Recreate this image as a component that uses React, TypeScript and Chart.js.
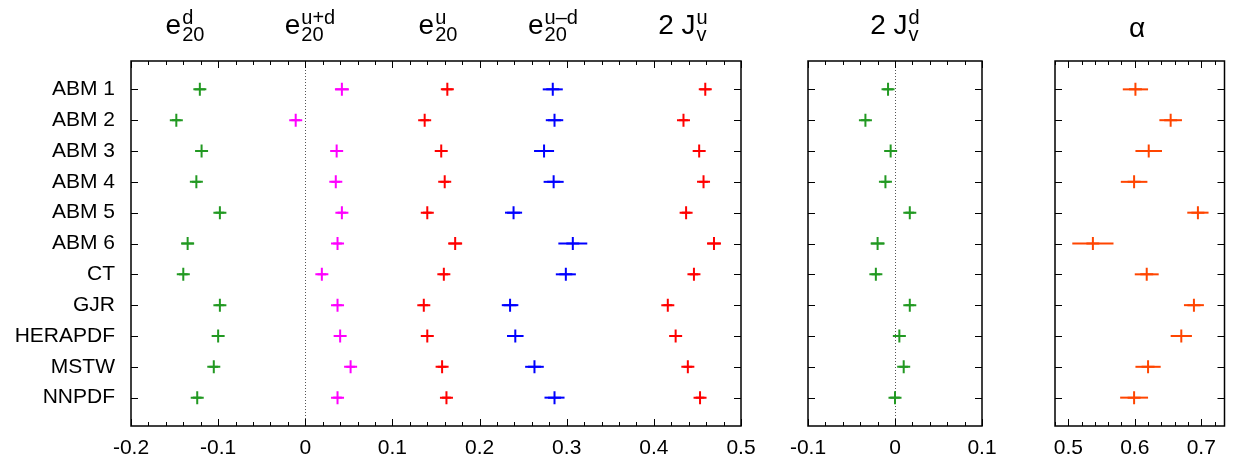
import React, { useEffect, useRef } from 'react';
import { Chart, registerables } from 'chart.js';

Chart.register(...registerables);

const groups = ['ABM 1', 'ABM 2', 'ABM 3', 'ABM 4', 'ABM 5', 'ABM 6', 'CT', 'GJR', 'HERAPDF', 'MSTW', 'NNPDF'];

const e20d = [-0.121, -0.148, -0.119, -0.125, -0.098, -0.135, -0.140, -0.098, -0.100, -0.105, -0.124];
const e20dErr = [0.006, 0.005, 0.005, 0.005, 0.005, 0.007, 0.005, 0.005, 0.005, 0.005, 0.005];
const e20ud = [0.042, -0.011, 0.036, 0.035, 0.042, 0.037, 0.019, 0.037, 0.040, 0.052, 0.037];
const e20udErr = [0.008, 0.005, 0.005, 0.005, 0.005, 0.005, 0.005, 0.005, 0.005, 0.005, 0.005];
const e20u = [0.163, 0.137, 0.156, 0.160, 0.140, 0.172, 0.159, 0.136, 0.140, 0.157, 0.162];
const e20uErr = [0.006, 0.005, 0.005, 0.005, 0.005, 0.008, 0.005, 0.005, 0.005, 0.005, 0.005];
const e20umd = [0.284, 0.286, 0.274, 0.285, 0.239, 0.307, 0.299, 0.235, 0.241, 0.263, 0.286];
const e20umdErr = [0.0115, 0.010, 0.0115, 0.0115, 0.0098, 0.0166, 0.0115, 0.0095, 0.0095, 0.0107, 0.0115];
const jvu = [0.459, 0.434, 0.452, 0.457, 0.437, 0.469, 0.446, 0.416, 0.425, 0.439, 0.453];
const jvuErr = [0.006, 0.005, 0.005, 0.005, 0.005, 0.008, 0.005, 0.005, 0.005, 0.005, 0.005];
const jvd = [-0.008, -0.034, -0.005, -0.011, 0.017, -0.020, -0.022, 0.017, 0.005, 0.010, 0.000];
const jvdErr = [0.0055, 0.005, 0.0055, 0.005, 0.005, 0.008, 0.005, 0.005, 0.005, 0.005, 0.0055];
const alpha = [0.601, 0.654, 0.621, 0.599, 0.695, 0.537, 0.618, 0.689, 0.670, 0.620, 0.599];
const alphaErr = [0.019, 0.017, 0.020, 0.020, 0.016, 0.031, 0.018, 0.015, 0.016, 0.019, 0.021];

const ticks1 = [-0.2, -0.1, 0, 0.1, 0.2, 0.3, 0.4, 0.5];
const ticks2 = [-0.1, 0, 0.1];
const ticks3 = [0.5, 0.6, 0.7];

const FONT = '"Liberation Sans", Arial, sans-serif';

type Series = { vals: number[]; errs: number[]; color: string };

const framePlugin = {
  id: 'frame',
  beforeDatasetsDraw(chart: any, _a: any, opts: any) {
    const { ctx, chartArea: a, scales } = chart;
    if (opts.zero) {
      const x = Math.round(scales.x.getPixelForValue(0)) + 0.5;
      ctx.save();
      ctx.strokeStyle = '#555';
      ctx.lineWidth = 1;
      ctx.setLineDash([1, 2]);
      ctx.beginPath();
      ctx.moveTo(x, a.top);
      ctx.lineTo(x, a.bottom);
      ctx.stroke();
      ctx.restore();
    }
  },
  afterDatasetsDraw(chart: any) {
    const { ctx, chartArea: a, scales } = chart;
    ctx.save();
    // horizontal error bars
    chart.data.datasets.forEach((ds: any) => {
      ctx.strokeStyle = ds.borderColor;
      ctx.lineWidth = 2;
      ds.data.forEach((p: any, i: number) => {
        const e = ds.errors[i];
        const y = scales.y.getPixelForValue(p.y);
        ctx.beginPath();
        ctx.moveTo(scales.x.getPixelForValue(p.x - e), y);
        ctx.lineTo(scales.x.getPixelForValue(p.x + e), y);
        ctx.stroke();
      });
    });
    // inward ticks on all four sides
    ctx.strokeStyle = '#000';
    ctx.lineWidth = 1;
    const { min, max } = scales.x;
    for (let v = Math.ceil(min / 0.02 - 1e-6) * 0.02; v <= max + 1e-9; v += 0.02) {
      const x = Math.round(scales.x.getPixelForValue(v)) + 0.5;
      const major = Math.abs(v * 10 - Math.round(v * 10)) < 1e-6;
      const len = major ? 7 : 4;
      ctx.beginPath();
      ctx.moveTo(x, a.bottom);
      ctx.lineTo(x, a.bottom - len);
      ctx.moveTo(x, a.top);
      ctx.lineTo(x, a.top + len);
      ctx.stroke();
    }
    groups.forEach((_g, i) => {
      const y = Math.round(scales.y.getPixelForValue(i)) + 0.5;
      ctx.beginPath();
      ctx.moveTo(a.left, y);
      ctx.lineTo(a.left + 7, y);
      ctx.moveTo(a.right, y);
      ctx.lineTo(a.right - 7, y);
      ctx.stroke();
    });
    ctx.lineWidth = 1.5;
    ctx.strokeRect(a.left, a.top, a.right - a.left, a.bottom - a.top);
    ctx.restore();
  },
};

const Panel: React.FC<{
  left: number; width: number; padL: number; padR: number;
  xmin: number; xmax: number; majors: number[]; series: Series[]; showY: boolean; zero: boolean;
}> = (p) => {
  const ref = useRef<HTMLCanvasElement>(null);
  useEffect(() => {
    const chart = new Chart(ref.current!, {
      type: 'scatter',
      data: {
        datasets: p.series.map((s) => ({
          data: s.vals.map((v, i) => ({ x: v, y: i })),
          errors: s.errs,
          borderColor: s.color,
          backgroundColor: s.color,
          pointStyle: 'cross',
          pointRadius: 6.5,
          borderWidth: 2,
        })) as any,
      },
      options: {
        animation: false,
        responsive: false,
        layout: { padding: { left: p.padL, right: p.padR, top: 61, bottom: 0 } },
        plugins: { legend: { display: false }, tooltip: { enabled: false }, frame: { zero: p.zero } } as any,
        scales: {
          x: {
            type: 'linear', min: p.xmin, max: p.xmax,
            grid: { display: false, drawTicks: false }, border: { display: false },
            afterBuildTicks: (s: any) => { s.ticks = p.majors.map((v) => ({ value: v })); },
            afterFit: (s: any) => { s.height = 37; s.paddingLeft = 0; s.paddingRight = 0; },
            ticks: { color: '#000', font: { family: FONT, size: 21 }, padding: 10, maxRotation: 0, callback: (v: any) => String(Math.round(v * 10) / 10) },
          },
          y: {
            type: 'linear', min: -0.92, max: 10.92, reverse: true, display: p.showY,
            grid: { display: false, drawTicks: false }, border: { display: false },
            afterBuildTicks: (s: any) => { s.ticks = groups.map((_g, i) => ({ value: i })); },
            afterFit: (s: any) => { s.width = p.showY ? 131 : 0; s.paddingTop = 0; s.paddingBottom = 0; },
            ticks: { color: '#000', font: { family: FONT, size: 21 }, padding: 16, callback: (v: any) => groups[v] },
          },
        },
      },
      plugins: [framePlugin],
    });
    return () => chart.destroy();
  }, []);
  return <canvas ref={ref} width={p.width} height={463} style={{ position: 'absolute', left: p.left, top: 0, width: p.width, height: 463 }} />;
};

const Title: React.FC<{ x: number; base: string; sup: string; sub: string }> = ({ x, base, sup, sub }) => (
  <div style={{ position: 'absolute', left: x, top: 0, transform: 'translateX(-50%)', display: 'flex', alignItems: 'flex-start', fontFamily: FONT, color: '#000', whiteSpace: 'nowrap' }}>
    <span style={{ fontSize: 28, lineHeight: '28px', marginTop: 11 }}>{base}</span>
    <span style={{ display: 'flex', flexDirection: 'column', fontSize: 20, lineHeight: '17px', marginTop: 9, marginLeft: 1 }}>
      <span>{sup}</span>
      <span>{sub}</span>
    </span>
  </div>
);

export default function App() {
  return (
    <div style={{ position: 'absolute', left: 0, top: 0, width: 1233, height: 463, background: '#fff' }}>
      <Panel left={0} width={760} padL={0} padR={19} xmin={-0.2} xmax={0.5} majors={ticks1} showY zero
        series={[
          { vals: e20d, errs: e20dErr, color: '#229922' },
          { vals: e20ud, errs: e20udErr, color: '#ff00ff' },
          { vals: e20u, errs: e20uErr, color: '#ff0000' },
          { vals: e20umd, errs: e20umdErr, color: '#0000ff' },
          { vals: jvu, errs: jvuErr, color: '#ff0000' },
        ]} />
      <Panel left={770} width={230} padL={38} padR={18} xmin={-0.1} xmax={0.1} majors={ticks2} showY={false} zero
        series={[{ vals: jvd, errs: jvdErr, color: '#229922' }]} />
      <Panel left={1000} width={233} padL={55} padR={7} xmin={0.48} xmax={0.735} majors={ticks3} showY={false} zero={false}
        series={[{ vals: alpha, errs: alphaErr, color: '#ff4500' }]} />
      <Title x={185} base="e" sup="d" sub="20" />
      <Title x={310} base="e" sup="u+d" sub="20" />
      <Title x={438} base="e" sup="u" sub="20" />
      <Title x={553} base="e" sup="u–d" sub="20" />
      <Title x={683} base="2 J" sup="u" sub="v" />
      <Title x={895} base="2 J" sup="d" sub="v" />
      <div style={{ position: 'absolute', left: 1137, top: 14, transform: 'translateX(-50%)', fontFamily: FONT, fontSize: 28, lineHeight: '28px', color: '#000' }}>α</div>
    </div>
  );
}
